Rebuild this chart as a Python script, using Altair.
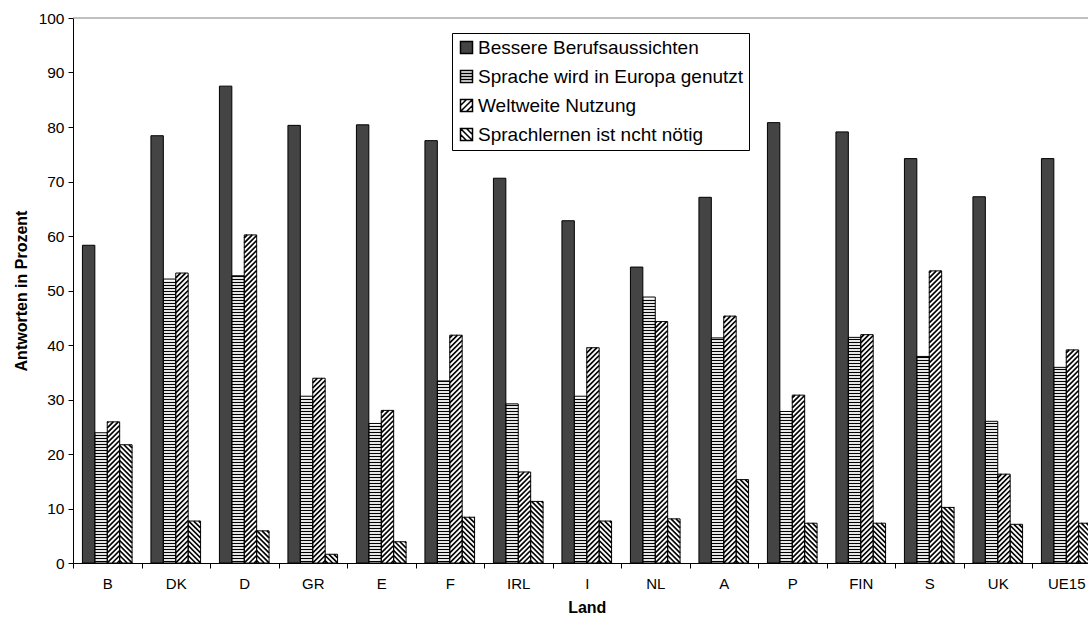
import altair as alt
import pandas as pd

# ---------------- data ----------------
countries = ["B", "DK", "D", "GR", "E", "F", "IRL", "I", "NL", "A", "P", "FIN", "S", "UK", "UE15"]
series = [
    "Bessere Berufsaussichten",
    "Sprache wird in Europa genutzt",
    "Weltweite Nutzung",
    "Sprachlernen ist ncht nötig",
]
berufs = [58.3, 78.4, 87.5, 80.3, 80.4, 77.5, 70.6, 62.8, 54.3, 67.1, 80.8, 79.1, 74.2, 67.2, 74.2]
europa = [23.9, 52.1, 52.7, 30.6, 25.6, 33.4, 29.2, 30.6, 48.8, 41.3, 27.8, 41.4, 37.9, 26.0, 35.9]
weltweit = [25.9, 53.2, 60.2, 33.9, 28.0, 41.8, 16.7, 39.5, 44.3, 45.3, 30.8, 41.9, 53.6, 16.3, 39.1]
nicht_noetig = [21.7, 7.7, 5.9, 1.6, 3.9, 8.4, 11.3, 7.7, 8.1, 15.3, 7.3, 7.3, 10.2, 7.1, 7.3]

rows = []
for s, (name, vals) in enumerate(zip(series, [berufs, europa, weltweit, nicht_noetig])):
    for k, (c, v) in enumerate(zip(countries, vals)):
        rows.append({"country": c, "k": k, "series": name, "s": s, "value": v})
df = pd.DataFrame(rows)

# ---------------- layout / style constants ----------------
FONT = "Liberation Sans"
PLOT_W = 1015
PLOT_H = 545
X_RANGE = 1027.5
STEP = X_RANGE / len(countries)
PAD_OUT = 0.76
BW = STEP / (len(series) + 2 * PAD_OUT)
OFF = PAD_OUT * BW
PPU = PLOT_H / 100.0
HP = 3.0
DP = 5.0

band_scale = alt.Scale(domain=countries, range=[0, X_RANGE], paddingInner=0, paddingOuter=0)
off_scale = alt.Scale(domain=series, paddingInner=0, paddingOuter=PAD_OUT)
y_scale = alt.Scale(domain=[0, 100], nice=False, zero=True)
xq_scale = alt.Scale(domain=[0, X_RANGE], range=[0, X_RANGE], nice=False, zero=False)
fill_scale = alt.Scale(domain=series, range=["#444444", "#ffffff", "#ffffff", "#ffffff"])

sq = "M-1,-1H1V1H-1Z"
shape_paths = [
    sq,
    sq + " M-1,-0.5H1 M-1,0H1 M-1,0.5H1",
    sq + " M-1,0L0,-1 M-1,1L1,-1 M0,1L1,0",
    sq + " M-1,0L0,1 M-1,-1L1,1 M0,-1L1,0",
]
shape_scale = alt.Scale(domain=series, range=shape_paths)

x_axis = alt.Axis(
    title="Land", tickBand="extent", tickSize=5, labelFontSize=15, titleFontSize=16,
    titleFontWeight="bold", labelPadding=8, titlePadding=8, domainColor="black",
    tickColor="black", labelColor="black", titleColor="black", labelAngle=0, grid=False,
)
y_axis = alt.Axis(
    title="Antworten in Prozent", values=list(range(0, 101, 10)), tickSize=5,
    labelFontSize=15.5, titleFontSize=16, titleFontWeight="bold", labelPadding=4,
    titlePadding=9, domainColor="black", tickColor="black", labelColor="black",
    titleColor="black", grid=False,
)
legend = alt.Legend(
    title=None, orient="none", legendX=379, legendY=15, direction="vertical",
    strokeColor="black", fillColor="white", padding=5, labelFontSize=19,
    labelLimit=600, symbolSize=144, labelOffset=2, rowPadding=9,
    labelColor="black", labelFont=FONT,
)


def yenc(field):
    return alt.Y(field, type="quantitative", scale=y_scale, axis=y_axis)


def xband(axis):
    return alt.X("country:N", sort=countries, scale=band_scale, axis=axis)


xoff = alt.XOffset("series:N", sort=series, scale=off_scale)

base = alt.Chart(df)
left_expr = f"datum.k*{STEP} + {OFF} + {BW}*datum.s"

bars = base.mark_bar(strokeWidth=0).encode(
    x=xband(x_axis),
    xOffset=xoff,
    y=yenc("value"),
    fill=alt.Fill("series:N", scale=fill_scale, legend=legend),
)

hstripes = (
    base.transform_filter("datum.s == 1")
    .transform_calculate(left=left_expr)
    .transform_calculate(c=f"sequence({HP/2}, datum.value*{PPU} - 0.5, {HP})")
    .transform_flatten(["c"])
    .transform_calculate(xa="datum.left", xb=f"datum.left + {BW}", ya=f"datum.c/{PPU}")
    .mark_rule(color="black", strokeWidth=1.2)
    .encode(
        x=alt.X("xa:Q", scale=xq_scale, axis=None),
        x2="xb:Q",
        y=yenc("ya"),
    )
)

d1 = (
    base.transform_filter("datum.s == 2")
    .transform_calculate(left=left_expr)
    .transform_calculate(H=f"datum.value*{PPU}")
    .transform_calculate(c=f"sequence({-BW + DP/2}, datum.H, {DP})")
    .transform_flatten(["c"])
    .transform_calculate(u0="max(0, -datum.c)")
    .transform_calculate(u1=f"min({BW}, datum.H - datum.c)")
    .transform_filter("datum.u1 > datum.u0")
    .transform_calculate(xa="datum.left + datum.u0")
    .transform_calculate(xb="datum.left + datum.u1")
    .transform_calculate(ya=f"(datum.u0 + datum.c)/{PPU}")
    .transform_calculate(yb=f"(datum.u1 + datum.c)/{PPU}")
    .mark_rule(color="black", strokeWidth=1.7)
    .encode(
        x=alt.X("xa:Q", scale=xq_scale, axis=None),
        x2="xb:Q",
        y=yenc("ya"),
        y2="yb:Q",
    )
)

d2 = (
    base.transform_filter("datum.s == 3")
    .transform_calculate(left=left_expr)
    .transform_calculate(H=f"datum.value*{PPU}")
    .transform_calculate(c=f"sequence({DP/2}, datum.H + {BW}, {DP})")
    .transform_flatten(["c"])
    .transform_calculate(u0="max(0, datum.c - datum.H)")
    .transform_calculate(u1=f"min({BW}, datum.c)")
    .transform_filter("datum.u1 > datum.u0")
    .transform_calculate(xa="datum.left + datum.u0")
    .transform_calculate(xb="datum.left + datum.u1")
    .transform_calculate(ya=f"(datum.c - datum.u0)/{PPU}")
    .transform_calculate(yb=f"(datum.c - datum.u1)/{PPU}")
    .mark_rule(color="black", strokeWidth=1.7)
    .encode(
        x=alt.X("xa:Q", scale=xq_scale, axis=None),
        x2="xb:Q",
        y=yenc("ya"),
        y2="yb:Q",
    )
)

outline = base.mark_bar(fill="transparent", stroke="black", strokeWidth=1).encode(
    x=xband(None),
    xOffset=xoff,
    y=yenc("value"),
)

legend_pts = (
    base.transform_calculate(hide="-20")
    .mark_point(filled=True, clip=True, stroke="black", strokeWidth=1, size=144, opacity=1)
    .encode(
        x=xband(None),
        xOffset=xoff,
        y=yenc("hide"),
        fill=alt.Fill("series:N", scale=fill_scale, legend=legend),
        shape=alt.Shape("series:N", scale=shape_scale, legend=legend),
    )
)

top = alt.Chart(pd.DataFrame({"top": [100]})).mark_rule(color="#808080", strokeWidth=1).encode(
    y=yenc("top")
)

chart = (
    alt.layer(bars, hstripes, d1, d2, outline, top, legend_pts)
    .resolve_scale(x="independent")
    .properties(
        width=PLOT_W,
        height=PLOT_H,
        autosize=alt.AutoSizeParams(type="none"),
        padding={"left": 73, "top": 18, "right": 0, "bottom": 56},
    )
    .configure(font=FONT)
    .configure_view(stroke=None)
)

chart.save("out.html", embed_options={"renderer": "svg", "actions": False})
